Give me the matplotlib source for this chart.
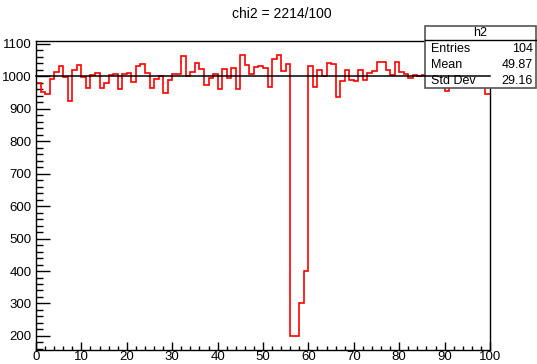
import numpy as np
import matplotlib
matplotlib.use("Agg")
import matplotlib.pyplot as plt
from matplotlib.ticker import MultipleLocator
from matplotlib.patches import Rectangle

plt.rcParams['font.family'] = ['Liberation Sans', 'DejaVu Sans']

# histogram h2: 100 bins on [0, 100]
bin_edges = np.arange(0, 101, 1)
counts = [
    978, 953, 946, 992, 1014, 1032, 999, 924, 1018, 1034,
    997, 965, 1004, 1011, 963, 978, 1005, 1008, 960, 1006,
    1010, 982, 1032, 1039, 1011, 965, 992, 1000, 950, 988,
    1008, 1007, 1062, 1002, 1012, 1042, 1024, 974, 994, 1008,
    962, 1024, 994, 1027, 961, 1067, 1035, 1006, 1029, 1032,
    1025, 968, 1052, 1067, 1017, 1037, 200, 200, 300, 400,
    1032, 968, 1018, 1000, 1040, 1037, 935, 986, 1020, 990,
    985, 1020, 990, 1010, 1015, 1044, 1044, 1020, 1003, 1044,
    1013, 1006, 995, 1003, 1000, 1005, 1010, 1030, 1000, 1020,
    954, 985, 1010, 1030, 995, 1015, 990, 1020, 1005, 946,
]
fit_const = 1000
title = "chi2 = 2214/100"
stat_names = ["Entries", "Mean", "Std Dev"]
stat_values = ["104", "49.87", "29.16"]

fig = plt.figure(figsize=(5.37, 3.64), dpi=100)
ax = fig.add_axes([36/537, 1 - 350/364, 454/537, 309.5/364])

ax.stairs(counts, bin_edges, color='red', lw=1.2, baseline=None, zorder=2)
ax.axhline(fit_const, color='black', lw=1.1, zorder=4, clip_on=False)

lo, hi = min(counts), max(counts)
ax.set_xlim(0, 100)
ax.set_ylim(lo - 0.05 * (hi - lo), hi + 0.05 * (hi - lo))

ax.xaxis.set_major_locator(MultipleLocator(10))
ax.xaxis.set_minor_locator(MultipleLocator(2))
ax.yaxis.set_major_locator(MultipleLocator(100))
ax.yaxis.set_minor_locator(MultipleLocator(20))
ax.tick_params(axis='both', which='both', direction='in', top=False, right=False,
               labelsize=9.5, width=1)
ax.tick_params(axis='x', which='major', length=6, pad=0.5)
ax.tick_params(axis='x', which='minor', length=3)
ax.tick_params(axis='y', which='major', length=10, pad=3)
ax.tick_params(axis='y', which='minor', length=5)
for s in ax.spines.values():
    s.set_linewidth(1)

fig.text(282/537, 1 - 14/364, title, ha='center', va='center', fontsize=10)

# stats box
bx0, bx1 = 425/537, 536/537
by0, by1 = 1 - 88/364, 1 - 26/364
hline_y = 1 - 39.5/364
ax.add_patch(Rectangle((bx0, by0), bx1 - bx0, by1 - by0, transform=fig.transFigure,
                       facecolor='white', edgecolor='#555555', lw=1.2,
                       clip_on=False, zorder=3))
ax.plot([bx0, bx1], [hline_y, hline_y], transform=fig.transFigure, color='black',
        lw=1, clip_on=False, zorder=3.1)
ax.text((bx0 + bx1) / 2, 1 - 32.5/364, "h2", transform=fig.transFigure,
        ha='center', va='center', fontsize=9, zorder=3.2)
rows_y = [49, 65, 80.5]
for name, val, ry in zip(stat_names, stat_values, rows_y):
    ax.text(431/537, 1 - ry/364, name, transform=fig.transFigure,
            ha='left', va='center', fontsize=9, zorder=3.2)
    ax.text(533/537, 1 - ry/364, val, transform=fig.transFigure,
            ha='right', va='center', fontsize=9, zorder=3.2)

fig.savefig("out.png", dpi=100)
